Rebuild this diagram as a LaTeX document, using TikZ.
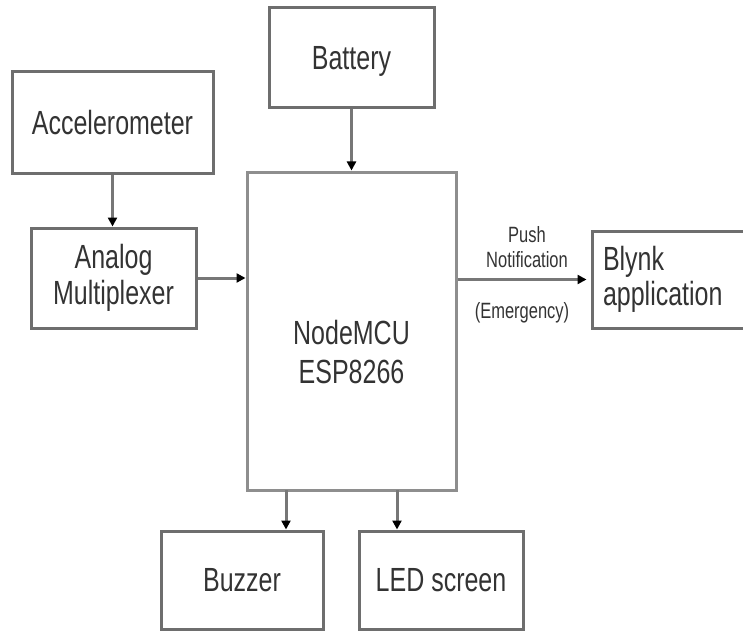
\documentclass[tikz,border=0pt]{standalone}
\usepackage{fontspec}
\setmainfont{Liberation Sans}
\usetikzlibrary{arrows.meta,calc}
\newcommand{\ys}[1]{\scalebox{1}[1.34]{#1}}
\definecolor{boxline}{HTML}{6E6E6E}
\definecolor{mcuLine}{HTML}{8E8E8E}
\definecolor{txt}{HTML}{333333}
\definecolor{arrline}{HTML}{777777}
\tikzset{
  blk/.style={draw=boxline, line width=3pt, inner sep=0pt, text=txt, align=center,
    font=\fontsize{25}{36}\selectfont},
  small/.style={inner sep=0pt, text=txt, align=center, font=\fontsize{16.5}{25}\selectfont},
  conn/.style={draw=arrline, line width=3pt,
    -{Triangle[length=9pt,width=9pt,color=black]}}
}
\begin{document}
\begin{tikzpicture}[x=1pt,y=-1pt]
\useasboundingbox (0,0) rectangle (743,631);
\clip (0,0) rectangle (743,631);
\node[blk, minimum width=201pt, minimum height=101pt] (accel) at (112.5,122.5) {\ys{Accelerometer}};
\node[blk, minimum width=165pt, minimum height=100pt, text depth=0pt] (battery) at (351.5,58) {\ys{Battery}};
\node[blk, minimum width=165pt, minimum height=100pt] (mux) at (113.5,278) {\ys{Analog}\\\ys{Multiplexer}};
\node[blk, draw=mcuLine, minimum width=209pt, minimum height=318pt,
  label={[inner sep=0pt, text=txt, align=center, font=\fontsize{25}{39}\selectfont,
    yshift=-21pt]center:\ys{NodeMCU}\\\ys{ESP8266}}] (nmcu) at (351.5,331) {};
\node[blk, minimum height=97pt, text width=146pt, inner xsep=11pt, align=left,
  font=\fontsize{25}{35}\selectfont] (blynk) at (676,279.5) {\ys{Blynk}\\\ys{application}};
\node[blk, minimum width=162pt, minimum height=98pt] (buzzer) at (242,580) {\raisebox{-6pt}{\ys{Buzzer}}};
\node[blk, minimum width=164pt, minimum height=98pt] (led) at (441,580) {\raisebox{-6pt}{\ys{LED screen}}};
\node[small] (push) at (527,247.5) {\ys{Push}\\\ys{Notification}};
\node[small] (emerg) at (522,313) {\ys{(Emergency)}};
\coordinate (b1) at (286,490);
\coordinate (b2) at (397,490);
\draw[conn] (accel.south) -- (accel.south |- mux.north);
\draw[conn] (mux.east) -- (mux.east -| nmcu.west);
\draw[conn] (battery.south) -- (battery.south |- nmcu.north);
\draw[conn] (blynk.west -| nmcu.east) -- ([xshift=-4pt]blynk.west);
\draw[conn] (b1) -- (b1 |- buzzer.north);
\draw[conn] (b2) -- (b2 |- led.north);
\end{tikzpicture}
\end{document}
